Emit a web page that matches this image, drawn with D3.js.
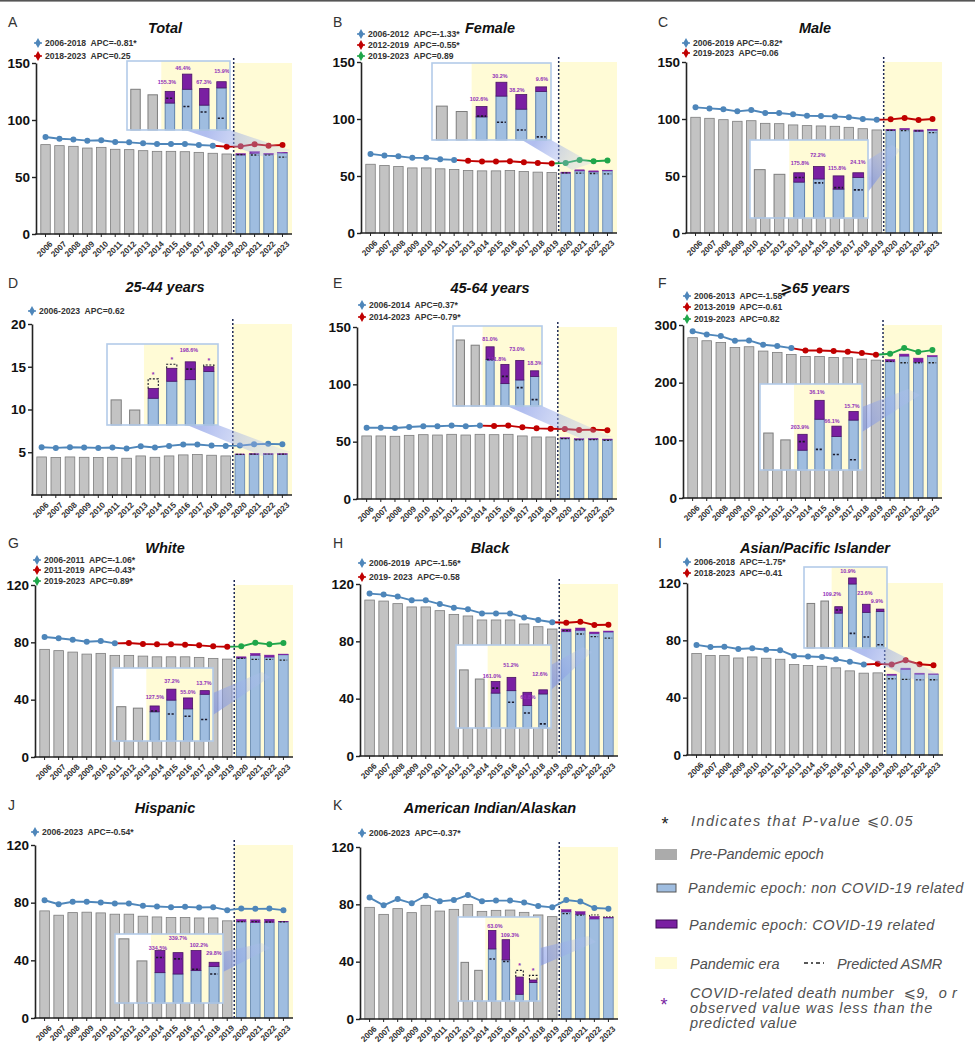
<!DOCTYPE html>
<html><head><meta charset="utf-8">
<script src="https://cdn.jsdelivr.net/npm/d3@7"></script>
<style>
body{margin:0;background:#fff}
svg{display:block}
text{font-family:"Liberation Sans",Arial,"DejaVu Sans",sans-serif}
</style>
</head><body>
<svg id="c" width="975" height="1053"></svg>
<script>
// ---------------- DATA ----------------
const years = d3.range(2006, 2024).map(String);
const panelLetters = ["A","B","C","D","E","F","G","H","I","J","K"];
const panelTitles = ["Total","Female","Male","25-44 years","45-64 years","⩾65 years","White","Black","Asian/Pacific Islander","Hispanic","American Indian/Alaskan"];
const yMaxes = [150,150,150,20,150,300,120,120,120,120,120];
const yTicks = [[0,50,100,150],[0,50,100,150],[0,50,100,150],[5,10,15,20],[0,50,100,150],[0,100,200,300],[0,40,80,120],[0,40,80,120],[0,40,80,120],[0,40,80,120],[0,40,80,120]];

// Pre-pandemic ASMR 2006-2019
const preASMR = [
 [78.4,77.5,76.9,75.4,76.0,74.3,74.0,73.1,72.5,72.5,72.2,71.6,70.8,70.2],
 [60.3,59.2,58.3,57.1,57.1,56.3,55.7,54.8,54.5,54.5,54.8,53.9,53.4,53.1],
 [101.5,100.6,99.4,98.0,98.5,96.2,95.9,94.8,94.2,93.9,93.6,92.7,91.5,90.4],
 [4.45,4.38,4.45,4.41,4.38,4.41,4.30,4.57,4.41,4.57,4.69,4.73,4.65,4.57],
 [55.0,55.0,54.7,55.5,56.1,55.8,56.4,55.8,56.4,56.1,56.4,55.0,54.1,54.1],
 [278.0,272.7,269.8,261.0,262.3,254.8,252.5,249.0,245.5,245.5,243.8,243.2,240.9,239.1],
 [75.1,74.2,73.2,71.8,72.3,70.9,70.9,70.4,69.9,69.9,69.9,69.5,68.8,68.3],
 [108.8,108.1,106.3,104.0,104.0,101.4,98.8,97.7,94.9,94.9,94.9,92.1,90.2,88.6],
 [70.8,69.4,69.4,67.7,68.4,67.5,66.8,63.1,62.4,61.9,60.8,58.7,57.1,57.3],
 [74.3,71.3,73.1,73.4,72.9,72.0,72.0,70.6,70.1,69.7,69.7,69.4,69.4,67.4],
 [77.9,73.0,77.0,74.2,79.3,75.3,76.5,79.8,75.1,75.8,76.0,74.4,72.6,71.4]
];
// Pandemic epoch 2020-2023: non COVID-19 related ASMR
const nonCovidASMR = [
 [69.3,70.8,69.6,71.1],[52.5,54.5,53.6,54.5],[89.8,90.7,89.2,90.1],[4.72,4.76,4.76,4.76],
 [52.6,51.7,52.0,51.5],[236.2,246.0,235.7,245.0],[69.0,70.9,69.7,71.3],[86.7,87.7,85.3,86.5],
 [55.7,59.6,56.4,56.2],[66.7,66.2,66.4,66.7],[74.7,73.0,69.8,70.5]
];
// Pandemic epoch 2020-2023: COVID-19 related ASMR
const covidASMR = [
 [1.2,1.4,1.2,0.5],[0.9,0.9,0.9,0.6],[1.2,1.1,1.2,0.9],[0.08,0.08,0.08,0.08],
 [0.9,0.9,0.9,0.8],[4.1,3.6,6.9,2.2],[0.9,1.4,1.4,0.5],[1.9,1.6,1.2,0.7],
 [0.7,1.0,0.7,0.4],[1.6,1.9,2.1,0.4],[1.6,1.9,1.8,0.4]
];
// Predicted ASMR 2020-2023
const predictedASMR = [
 [69.6,69.3,69.3,67.5],[52.8,52.5,52.2,51.9],[90.0,89.8,89.5,88.0],[4.74,4.78,4.78,4.78],
 [52.6,51.6,51.8,51.2],[237.0,234.5,234.5,234.5],[68.8,68.1,68.1,67.6],[87.5,85.1,83.3,82.3],
 [53.2,52.7,52.5,52.5],[66.9,66.9,66.6,66.7],[73.5,72.5,72.6,71.3]
];
// Joinpoint trend line values 2006-2023
const trendASMR = [
 [85.1,83.6,83.0,81.9,82.2,80.7,80.4,79.5,78.9,78.9,78.9,78.1,77.5,76.6,76.9,78.7,77.5,78.1],
 [69.4,67.9,67.3,65.9,65.9,64.7,64.1,63.3,62.7,62.7,63.0,62.1,61.5,61.0,61.5,64.1,63.0,63.6],
 [110.2,109.3,108.5,106.7,107.9,105.2,105.2,104.1,102.9,102.6,102.3,101.5,100.0,99.4,99.7,100.9,99.1,100.0],
 [5.59,5.51,5.59,5.55,5.51,5.55,5.43,5.70,5.55,5.74,5.90,5.90,5.78,5.74,5.78,5.94,5.98,5.94],
 [62.2,62.2,61.9,62.8,63.4,63.4,64.0,63.4,64.0,63.7,64.0,62.5,61.6,61.3,61.0,60.2,60.5,59.9],
 [289.0,283.7,280.8,272.7,273.3,265.8,263.5,260.0,255.9,255.9,254.8,253.6,251.3,248.4,250.1,260.0,253.0,256.5],
 [83.7,82.8,81.8,80.4,80.9,79.3,79.5,78.8,78.6,78.6,78.3,77.9,77.2,76.9,77.2,79.7,78.6,79.5],
 [113.3,112.6,111.2,108.6,108.6,106.0,103.5,102.3,99.5,99.5,99.5,96.7,94.9,93.3,93.0,93.7,91.4,91.6],
 [76.8,75.4,75.6,74.0,74.5,73.5,73.1,69.1,68.7,68.4,66.8,65.0,63.1,63.6,63.1,66.1,63.3,62.6],
 [81.7,78.9,80.6,80.6,80.1,79.4,79.4,77.8,77.3,76.9,77.1,76.6,76.9,74.8,75.9,75.7,75.9,74.8],
 [84.7,79.3,83.7,80.7,86.0,82.1,83.0,86.5,82.1,82.6,82.6,81.2,78.8,77.9,83.0,81.9,77.4,77.0]
];
// Joinpoint segments: [start index, end index, colour key, legend label]
const segments = [
 [[0,12,"b","2006-2018  APC=-0.81*"],[12,17,"r","2018-2023  APC=0.25"]],
 [[0,6,"b","2006-2012  APC=-1.33*"],[6,13,"r","2012-2019  APC=-0.55*"],[13,17,"g","2019-2023  APC=0.89"]],
 [[0,13,"b","2006-2019 APC=-0.82*"],[13,17,"r","2019-2023  APC=0.06"]],
 [[0,17,"b","2006-2023  APC=0.62"]],
 [[0,8,"b","2006-2014  APC=0.37*"],[8,17,"r","2014-2023  APC=-0.79*"]],
 [[0,7,"b","2006-2013  APC=-1.58*"],[7,13,"r","2013-2019  APC=-0.61"],[13,17,"g","2019-2023  APC=0.82"]],
 [[0,5,"b","2006-2011  APC=-1.06*"],[5,13,"r","2011-2019  APC=-0.43*"],[13,17,"g","2019-2023  APC=0.89*"]],
 [[0,13,"b","2006-2019  APC=-1.56*"],[13,17,"r","2019- 2023  APC=-0.58"]],
 [[0,12,"b","2006-2018  APC=-1.75*"],[12,17,"r","2018-2023  APC=-0.41"]],
 [[0,17,"b","2006-2023  APC=-0.54*"]],
 [[0,17,"b","2006-2023  APC=-0.37*"]]
];
// Zoomed insets (2018-2023), bar heights as % of the inset height
const insetPre = [[59,51],[44,37],[62,56],[31,18.5],[82.5,76],[43,35],[47,45],[70,59],[55,58],[93,61],[46,36.5]];
const insetNonCovid = [[39,59,36,61],[30,57,40,63],[46,50,37,52],[33,54,56,66],[58,28,32.5,37],[23,59,39,58],[40,56,44,64],[42,45,27,41],[43,79,44,45],[44,42,47,53],[62,49,8,22]];
const insetCovid = [[17,22,24,9],[13.5,18,19,6],[12,16,17,6],[12,16,22,6],[16,24,24.5,7],[18.5,22,12,10],[8,15,15,5],[14,16,16,5],[8,7.5,10,3],[32,31,29,6],[22,24,20.5,3]];
const insetPredicted = [[46,34,26,17],[31,23,13,4],[52,45,39,36],[57,75,69,74],[58,37,23,8],[33,24,18,12],[41,37,34,29.5],[48,31,18,5],[47,18,13.5,4],[66,64,49,42],[50,47,36.5,30.5]];
const insetPct = [
 ["155.3%","46.4%","67.3%","15.9%"],["102.6%","30.2%","38.2%","9.6%"],["175.8%","72.2%","115.8%","24.1%"],
 ["","","198.6%",""],["81.0%","141.8%","73.0%","18.3%"],["203.9%","36.1%","66.1%","15.7%"],
 ["127.5%","37.2%","55.0%","13.7%"],["161.0%","51.2%","60.8%","12.6%"],["109.2%","10.9%","23.6%","9.9%"],
 ["334.5%","339.7%","102.2%","29.8%"],["63.0%","109.3%","",""]
];

// ---------------- LAYOUT ----------------
const layout = [
 {l:36,r:292,t:63,b:234,ox:0,titleY:33,letY:27,leg:[43,56],legX:38},
 {l:361,r:617,t:62,b:233,ox:325,titleY:33,letY:27,leg:[34,45,56],legX:361},
 {l:686,r:942,t:62,b:233,ox:650,titleY:33,letY:27,leg:[43,53],legX:686},
 {l:32,r:292,t:324,b:495,ox:0,titleY:292,letY:288,leg:[311],legX:32},
 {l:357,r:617,t:327,b:499,ox:325,titleY:293,letY:288,leg:[305,317],legX:362},
 {l:683,r:942,t:325,b:498,ox:650,titleY:293,letY:288,leg:[296,307,319],legX:687},
 {l:35,r:293,t:585,b:757,ox:0,titleY:553,letY:548,leg:[560,570,581],legX:37},
 {l:360,r:618,t:584,b:756,ox:325,titleY:553,letY:548,leg:[563,577],legX:362},
 {l:687,r:943,t:583,b:755,ox:650,titleY:553,letY:548,leg:[562,573],legX:687},
 {l:35,r:293,t:845,b:1018,ox:0,titleY:813,letY:810,leg:[832],legX:35},
 {l:360,r:618,t:847,b:1019,ox:325,titleY:813,letY:810,leg:[833],legX:362}
];
const insetBoxes = [[127,61,230,130],[432,63,551,140],[750,140,868,218],[107,344,218,425],[453,326,542,406],
 [760,384,862,470],[113,668,213,741],[456,645,551,728],[804,567,887,648],[115,934,223,1003],[458,917,540,1001]];
// hand-placed positions of the % labels inside each inset [x, y]
const insetLabelPos = [
 [[167,82],[183,68],[204,82],[222,71]],
 [[479,99],[500,76],[517,90],[542,79]],
 [[800,163],[818,155],[837,168],[858,162]],
 [null,null,[189,350],null],
 [[490,339],[497,359],[517,349],[535,363]],
 [[800,427],[817,392],[832,421],[852,406]],
 [[155,697],[172,681],[188,692],[204,683]],
 [[492,676],[511,665],[528,697],[540,674]],
 [[832,594],[848,571],[865,593],[877,601]],
 [[158,948],[178,938],[199,945],[214,953]],
 [[495,926],[510,935],null,null]
];
const insetLinks = [
 [[185,130],[230,130],[290,150],[267,158]],
 [[522,140],[551,140],[592,163],[572,170]],
 [[868,160],[868,192],[900,150],[892,145]],
 [[187,425],[218,425],[290,452],[262,456]],
 [[507,406],[542,406],[612,437],[582,439]],
 [[862,407],[862,432],[920,395],[908,389]],
 [[213,693],[213,715],[270,677],[262,672]],
 [[551,665],[551,690],[592,652],[583,647]],
 [[847,648],[887,648],[940,675],[917,681]],
 [[223,952],[223,972],[270,948],[262,943]],
 [[540,948],[540,966],[596,942],[588,936]]
];

const COL = {b:"#4e86ba", r:"#c00000", g:"#1fa64a"};
const GRAY = "#c3c3c3", GRAY_S = "#7d7d7d", BLUE = "#9fbde0", BLUE_S = "#5f82ad", PURPLE = "#7a1fa2", YELLOW = "#fffbd6";
const LABEL_PURPLE = "#9030b8";

const svg = d3.select("#c");
const defs = svg.append("defs");
svg.append("rect").attr("x",0).attr("y",0).attr("width",975).attr("height",1.6).attr("fill","#555");

function drawPanel(p){
  const L = layout[p];
  const g = svg.append("g");
  const x = d3.scaleBand().domain(years).range([L.l+2, L.r-2]).paddingInner(0.32).paddingOuter(0.2);
  const bw = x.bandwidth();
  const cx = i => x(years[i]) + bw/2;
  const y = d3.scaleLinear().domain([0, yMaxes[p]]).range([L.b, L.t]);
  const split = (cx(13) + cx(14))/2;

  g.append("rect").attr("x",split).attr("y",y(yMaxes[p])).attr("width",L.r-split).attr("height",L.b-y(yMaxes[p])).attr("fill",YELLOW);

  g.selectAll(null).data(preASMR[p]).join("rect")
    .attr("x",(d,i)=>x(years[i])).attr("y",d=>y(d)).attr("width",bw).attr("height",d=>y(0)-y(d))
    .attr("fill",GRAY).attr("stroke",GRAY_S).attr("stroke-width",0.8);
  const non = nonCovidASMR[p], cov = covidASMR[p], pred = predictedASMR[p];
  g.selectAll(null).data(non).join("rect")
    .attr("x",(d,i)=>x(years[14+i])).attr("y",d=>y(d)).attr("width",bw).attr("height",d=>y(0)-y(d))
    .attr("fill",BLUE).attr("stroke",BLUE_S).attr("stroke-width",0.8);
  g.selectAll(null).data(cov).join("rect")
    .attr("x",(d,i)=>x(years[14+i])).attr("y",(d,i)=>y(non[i]+d)).attr("width",bw)
    .attr("height",(d,i)=>y(non[i])-y(non[i]+d)).attr("fill",PURPLE).attr("stroke",PURPLE).attr("stroke-width",0.5);
  pred.forEach((v,i)=>{
    const x0 = x(years[14+i]), tot = non[i]+cov[i];
    if (v <= tot){
      g.append("line").attr("x1",x0+1).attr("x2",x0+bw-1).attr("y1",y(v)).attr("y2",y(v))
       .attr("stroke","#222").attr("stroke-width",1.3).attr("stroke-dasharray","2,1.5");
    } else {
      g.append("path").attr("d",`M${x0},${y(tot)}V${y(v)}H${x0+bw}V${y(tot)}`).attr("fill","none")
       .attr("stroke","#222").attr("stroke-width",1).attr("stroke-dasharray","1.5,1.5");
    }
  });

  // axes
  const ya = g.append("g").attr("transform",`translate(${L.l},0)`)
    .call(d3.axisLeft(y).tickValues(yTicks[p]).tickSize(4).tickSizeOuter(0).tickPadding(2));
  ya.select(".domain").attr("stroke","#222").attr("stroke-width",1.6);
  ya.selectAll(".tick line").attr("stroke","#222").attr("stroke-width",1.4);
  ya.selectAll(".tick text").attr("font-size",13.5).attr("font-weight","bold").attr("fill","#111")
    .attr("font-family","Liberation Sans, Arial, sans-serif");
  const xa = g.append("g").attr("transform",`translate(0,${L.b})`)
    .call(d3.axisBottom(x).tickSize(3).tickSizeOuter(0).tickPadding(2));
  xa.select(".domain").remove();
  xa.selectAll(".tick line").attr("stroke","#222");
  xa.selectAll(".tick text").attr("font-size",8.2).attr("font-weight","bold").attr("fill","#333")
    .attr("font-family","Liberation Sans, Arial, sans-serif")
    .attr("text-anchor","end").attr("dy","0.35em").attr("transform","translate(2,5) rotate(-45)");
  g.append("line").attr("x1",L.l-0.8).attr("x2",L.r).attr("y1",L.b).attr("y2",L.b).attr("stroke","#222").attr("stroke-width",1.6);

  // pandemic split line
  g.append("line").attr("x1",split).attr("x2",split).attr("y1",L.t-5).attr("y2",L.b)
    .attr("stroke","#1f2a55").attr("stroke-width",1.5).attr("stroke-dasharray","2,2");

  // trend line
  const line = d3.line().x(d=>cx(d)).y(d=>y(trendASMR[p][d]));
  segments[p].forEach(s=>{
    g.append("path").attr("d",line(d3.range(s[0],s[1]+1))).attr("fill","none")
     .attr("stroke",COL[s[2]]).attr("stroke-width",1.9);
  });
  trendASMR[p].forEach((v,i)=>{
    const s = segments[p].find(s=>s[1]>=i);
    g.append("circle").attr("cx",cx(i)).attr("cy",y(v)).attr("r",3).attr("fill",COL[s[2]]);
  });

  // segment legend
  segments[p].forEach((s,k)=>{
    const ly = L.leg[k];
    g.append("line").attr("x1",L.legX-4).attr("x2",L.legX+4).attr("y1",ly).attr("y2",ly).attr("stroke",COL[s[2]]).attr("stroke-width",1.5);
    g.append("path").attr("d",d3.symbol(d3.symbolDiamond,28)()).attr("transform",`translate(${L.legX},${ly})`).attr("fill",COL[s[2]]);
    g.append("text").attr("x",L.legX+7).attr("y",ly).attr("dy","0.35em").attr("font-size",8.6).attr("font-weight","bold")
      .attr("fill","#333").style("white-space","pre").text(s[3]);
  });

  // title and letter
  g.append("text").attr("x",L.ox+165).attr("y",L.titleY).attr("text-anchor","middle").attr("font-size",14.5)
    .attr("font-weight","bold").attr("font-style","italic").attr("fill","#111").text(panelTitles[p]);
  g.append("text").attr("x",L.ox+8).attr("y",L.letY).attr("font-size",14).attr("fill","#333").text(panelLetters[p]);

  // ------- inset -------
  const B = insetBoxes[p];
  const lk = insetLinks[p];
  const gid = "wg"+p;
  const grad = defs.append("linearGradient").attr("id",gid).attr("gradientUnits","userSpaceOnUse")
    .attr("x1",(lk[0][0]+lk[1][0])/2).attr("y1",(lk[0][1]+lk[1][1])/2)
    .attr("x2",(lk[2][0]+lk[3][0])/2).attr("y2",(lk[2][1]+lk[3][1])/2);
  grad.append("stop").attr("offset",0).attr("stop-color","#7d93e4").attr("stop-opacity",0.6);
  grad.append("stop").attr("offset",1).attr("stop-color","#b7c4f0").attr("stop-opacity",0.25);
  g.append("path").attr("d","M"+lk.map(d=>d.join(",")).join("L")+"Z").attr("fill",`url(#${gid})`);

  const ix = d3.scaleBand().domain(d3.range(6)).range([B[0],B[2]]).paddingInner(0.45).paddingOuter(0.22);
  const ibw = ix.bandwidth();
  const iy = d3.scaleLinear().domain([0,100]).range([B[3],B[1]]);
  const icx = i => ix(i)+ibw/2;
  g.append("rect").attr("x",B[0]).attr("y",B[1]).attr("width",B[2]-B[0]).attr("height",B[3]-B[1]).attr("fill","#fff");
  const isplit = (icx(1)+icx(2))/2;
  g.append("rect").attr("x",isplit).attr("y",B[1]).attr("width",B[2]-isplit).attr("height",B[3]-B[1]).attr("fill",YELLOW);
  g.selectAll(null).data(insetPre[p]).join("rect")
    .attr("x",(d,i)=>ix(i)).attr("y",d=>iy(d)).attr("width",ibw).attr("height",d=>iy(0)-iy(d))
    .attr("fill",GRAY).attr("stroke",GRAY_S).attr("stroke-width",1);
  const inon = insetNonCovid[p], icov = insetCovid[p], ipred = insetPredicted[p];
  g.selectAll(null).data(inon).join("rect")
    .attr("x",(d,i)=>ix(i+2)).attr("y",d=>iy(d)).attr("width",ibw).attr("height",d=>iy(0)-iy(d))
    .attr("fill",BLUE).attr("stroke",BLUE_S).attr("stroke-width",1);
  g.selectAll(null).data(icov).join("rect")
    .attr("x",(d,i)=>ix(i+2)).attr("y",(d,i)=>iy(inon[i]+d)).attr("width",ibw)
    .attr("height",(d,i)=>iy(inon[i])-iy(inon[i]+d)).attr("fill",PURPLE).attr("stroke","#4a1466").attr("stroke-width",0.8);
  ipred.forEach((v,i)=>{
    const x0 = ix(i+2), tot = inon[i]+icov[i];
    if (v <= tot){
      g.append("line").attr("x1",x0+1).attr("x2",x0+ibw-1).attr("y1",iy(v)).attr("y2",iy(v))
       .attr("stroke","#1a1a2a").attr("stroke-width",1.6).attr("stroke-dasharray","2.2,1.6");
    } else {
      g.append("path").attr("d",`M${x0},${iy(tot)}V${iy(v)}H${x0+ibw}V${iy(tot)}`).attr("fill","none")
       .attr("stroke","#1a1a2a").attr("stroke-width",1.1).attr("stroke-dasharray","2,1.6");
      g.append("text").attr("x",icx(i+2)).attr("y",iy(v)-2).attr("text-anchor","middle").attr("font-size",7)
        .attr("font-weight","bold").attr("fill",LABEL_PURPLE).text("*");
    }
    const t = insetPct[p][i], pos = insetLabelPos[p][i];
    if (t && pos){
      g.append("text").attr("x",pos[0]).attr("y",pos[1]).attr("dy","0.35em").attr("text-anchor","middle").attr("font-size",5.4)
        .attr("font-weight","bold").attr("fill",LABEL_PURPLE).text(t);
    }
  });
  g.append("rect").attr("x",B[0]).attr("y",B[1]).attr("width",B[2]-B[0]).attr("height",B[3]-B[1])
    .attr("fill","none").attr("stroke","#b3cbe9").attr("stroke-width",1.6);
}
d3.range(11).forEach(drawPanel);

// ---------------- LEGEND ----------------
const lg = svg.append("g").attr("fill","#505050").attr("font-size",14.5).attr("font-style","italic");
lg.append("text").attr("x",665).attr("y",830).attr("text-anchor","middle").attr("font-size",18).attr("font-style","normal").attr("fill","#222").text("*");
lg.append("text").attr("x",691).attr("y",826).attr("letter-spacing",1.4).text("Indicates that P-value  ⩽0.05");
lg.append("rect").attr("x",655).attr("y",849).attr("width",22).attr("height",11).attr("fill","#ababab");
lg.append("text").attr("x",690).attr("y",859).attr("letter-spacing",-0.1).text("Pre-Pandemic epoch");
lg.append("rect").attr("x",657).attr("y",884).attr("width",19).attr("height",8).attr("fill",BLUE).attr("stroke","#555").attr("stroke-width",1);
lg.append("text").attr("x",688).attr("y",893).attr("letter-spacing",0.45).text("Pandemic epoch: non COVID-19 related");
lg.append("rect").attr("x",656).attr("y",920).attr("width",21).attr("height",8).attr("fill",PURPLE).attr("stroke","#3c0d55").attr("stroke-width",1);
lg.append("text").attr("x",689).attr("y",930).attr("letter-spacing",0.45).text("Pandemic epoch: COVID-19 related");
lg.append("rect").attr("x",655).attr("y",957).attr("width",22).attr("height",12).attr("fill",YELLOW);
lg.append("text").attr("x",690).attr("y",969).text("Pandemic era");
lg.append("line").attr("x1",804).attr("x2",824).attr("y1",963).attr("y2",963).attr("stroke","#222").attr("stroke-width",1.6).attr("stroke-dasharray","4,3,2,3");
lg.append("text").attr("x",837).attr("y",969).attr("letter-spacing",-0.1).text("Predicted ASMR");
lg.append("text").attr("x",664).attr("y",1011).attr("text-anchor","middle").attr("font-size",18).attr("font-style","normal").attr("fill","#7a1fa2").text("*");
lg.append("text").attr("x",690).attr("y",998).attr("letter-spacing",0.6).style("white-space","pre").text("COVID-related death number  ⩽9,  o r");
lg.append("text").attr("x",690).attr("y",1013).attr("letter-spacing",0.9).text("observed value was less than the");
lg.append("text").attr("x",690).attr("y",1028).attr("letter-spacing",0.6).text("predicted value");
</script>
</body></html>
